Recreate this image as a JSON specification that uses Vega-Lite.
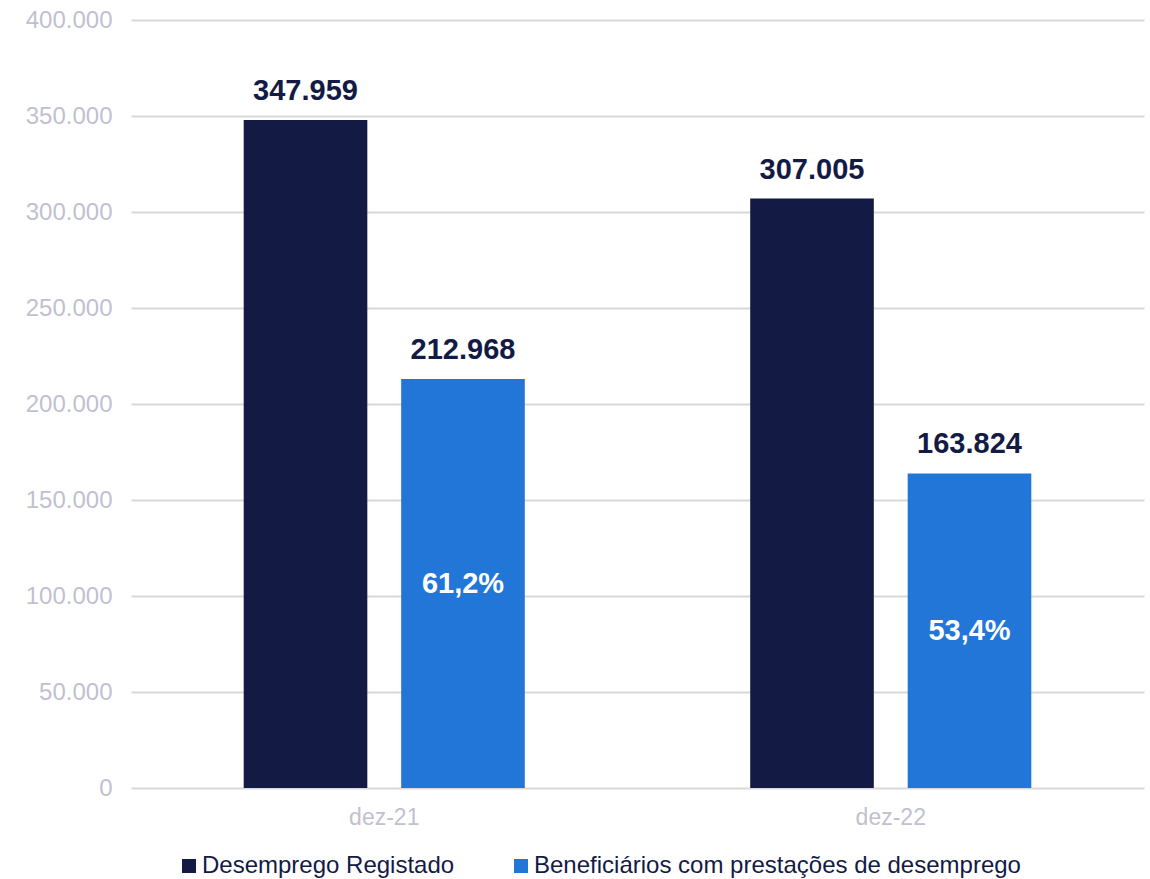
{
  "$schema": "https://vega.github.io/schema/vega-lite/v6.json",
  "width": 1013,
  "height": 768,
  "autosize": {"type": "none"},
  "padding": {"left": 131, "top": 20, "right": 6, "bottom": 91},
  "background": "white",
  "config": {
    "locale": {"number": {"decimal": ",", "thousands": ".", "grouping": [3], "currency": ["", " €"]}},
    "font": "Liberation Sans",
    "view": {"stroke": null}
  },
  "data": {
    "values": [
      {"periodo": "dez-21", "serie": "Desemprego Registado", "valor": 347959, "pct": ""},
      {"periodo": "dez-21", "serie": "Beneficiários com prestações de desemprego", "valor": 212968, "pct": "61,2%"},
      {"periodo": "dez-22", "serie": "Desemprego Registado", "valor": 307005, "pct": ""},
      {"periodo": "dez-22", "serie": "Beneficiários com prestações de desemprego", "valor": 163824, "pct": "53,4%"}
    ]
  },
  "encoding": {
    "x": {
      "field": "periodo", "type": "nominal", "title": null,
      "scale": {"paddingInner": 0.445, "paddingOuter": 0.2225},
      "axis": {"labelAngle": 0, "labelFontSize": 23, "labelColor": "#BFC1D0", "labelPadding": 18, "domain": false, "ticks": false}
    },
    "xOffset": {
      "field": "serie", "type": "nominal",
      "sort": ["Desemprego Registado", "Beneficiários com prestações de desemprego"],
      "scale": {"paddingInner": 0.215, "paddingOuter": 0}
    }
  },
  "layer": [
    {
      "mark": {"type": "bar"},
      "encoding": {
        "y": {
          "field": "valor", "type": "quantitative", "title": null,
          "scale": {"domain": [0, 400000]},
          "axis": {"values": [0, 50000, 100000, 150000, 200000, 250000, 300000, 350000, 400000], "format": ",.0f", "labelFontSize": 24, "labelColor": "#BFC1D0", "labelPadding": 19, "domain": false, "ticks": false, "gridColor": "#D9D9D9", "gridWidth": 2}
        },
        "color": {
          "field": "serie", "type": "nominal", "title": null,
          "scale": {"domain": ["Desemprego Registado", "Beneficiários com prestações de desemprego"], "range": ["#131B45", "#2276D8"]},
          "legend": {
            "orient": "none", "legendX": 46, "legendY": 834, "direction": "horizontal",
            "symbolType": "square", "symbolSize": 196, "symbolStrokeWidth": 0,
            "labelFontSize": 24, "labelColor": "#131B45", "labelOffset": 1,
            "columnPadding": 54, "labelLimit": 600
          }
        }
      }
    },
    {
      "mark": {"type": "text", "baseline": "bottom", "dy": -14, "fontSize": 29, "fontWeight": "bold", "color": "#131B45"},
      "encoding": {
        "y": {"field": "valor", "type": "quantitative"},
        "text": {"field": "valor", "type": "quantitative", "format": ",.0f"}
      }
    },
    {
      "transform": [{"calculate": "datum.valor / 2", "as": "meio"}],
      "mark": {"type": "text", "baseline": "middle", "fontSize": 29, "fontWeight": "bold", "color": "white"},
      "encoding": {
        "y": {"field": "meio", "type": "quantitative"},
        "text": {"field": "pct", "type": "nominal"}
      }
    }
  ]
}
